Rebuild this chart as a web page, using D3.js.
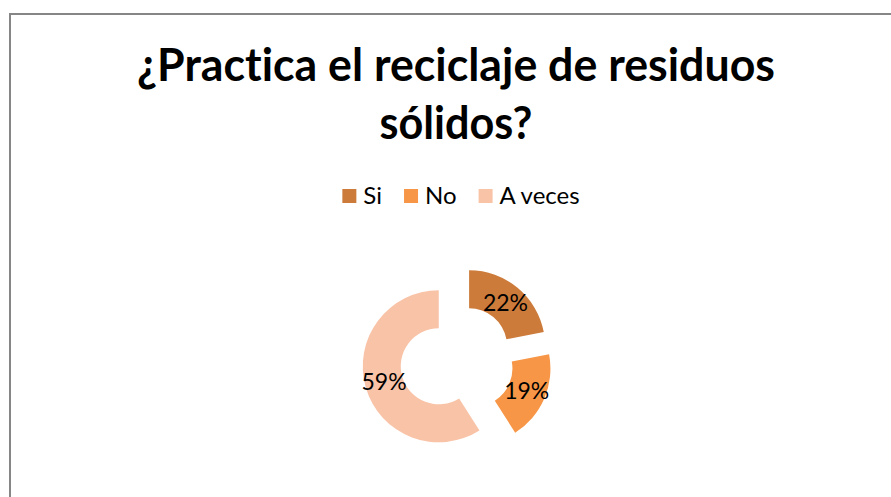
<html>

<head>
    <meta charset="utf-8">
    <script src="https://cdn.jsdelivr.net/npm/d3@7"></script>
    <style>
        body {
            margin: 0;
            background: #fff;
        }

        text {
            font-family: Lato, "Open Sans", sans-serif;
            font-variant-ligatures: none;
        }
    </style>
</head>

<body>
    <script>
        var categories = ['Si', 'No', 'A veces'];
        var values = [22, 19, 59];
        var titleLines = ['¿Practica el reciclaje de residuos', 'sólidos?'];

        var w = 891, h = 497;

        var svg = d3.select('body')
            .append('svg')
            .attr('width', w)
            .attr('height', h);

        // chart area border (runs off right / bottom like the screenshot)
        svg.append('rect')
            .attr('x', 10)
            .attr('y', 14)
            .attr('width', 1000)
            .attr('height', 1000)
            .attr('fill', 'none')
            .attr('stroke', '#868686')
            .attr('stroke-width', 2);

        // title
        var titleWidths = [638, 153];
        svg.selectAll('.title')
            .data(titleLines)
            .enter()
            .append('text')
            .attr('class', 'title')
            .attr('x', 456)
            .attr('y', (d, i) => 81 + i * 57.5)
            .attr('text-anchor', 'middle')
            .attr('font-size', 45)
            .attr('font-weight', 'bold')
            .attr('fill', '#000')
            .attr('textLength', (d, i) => titleWidths[i])
            .attr('lengthAdjust', 'spacingAndGlyphs')
            .text(d => d);

        var color = d3.scaleOrdinal()
            .domain(categories)
            .range(['#CD7B3A', '#F79646', '#F9C3A7']);

        // legend
        var legend = svg.append('g');
        var items = legend.selectAll('g')
            .data(categories)
            .enter()
            .append('g');

        items.append('rect')
            .attr('width', 14)
            .attr('height', 14)
            .attr('y', 189)
            .attr('fill', d => color(d));

        items.append('text')
            .attr('x', 21)
            .attr('y', 204)
            .attr('font-size', 24)
            .attr('fill', '#000')
            .text(d => d);

        var xpos = 0;
        items.each(function () {
            var tw = d3.select(this).select('text').node().getComputedTextLength();
            d3.select(this).attr('transform', 'translate(' + xpos + ',0)');
            xpos += 21 + tw + 22;
        });
        var legendWidth = xpos - 22;
        legend.attr('transform', 'translate(' + (461 - legendWidth / 2) + ',0)');

        // exploded doughnut
        var cx = 457, cy = 361;
        var outerRadius = 76, innerRadius = 38, explode = 19;

        var pie = d3.pie()
            .value(d => d)
            .sort(null);

        var arc = d3.arc()
            .outerRadius(outerRadius)
            .innerRadius(innerRadius);

        var total = d3.sum(values);
        var fmt = d3.format('.0%');

        var g = svg.append('g')
            .attr('transform', 'translate(' + cx + ',' + cy + ')');

        var slices = g.selectAll('g')
            .data(pie(values))
            .enter()
            .append('g')
            .attr('transform', (d) => {
                var a = (d.startAngle + d.endAngle) / 2;
                return 'translate(' + (Math.sin(a) * explode) + ',' + (-Math.cos(a) * explode) + ')';
            });

        slices.append('path')
            .attr('d', arc)
            .attr('fill', (d, i) => color(categories[i]));

        slices.append('text')
            .attr('x', d => arc.centroid(d)[0])
            .attr('y', d => arc.centroid(d)[1])
            .attr('dy', '0.36em')
            .attr('text-anchor', 'middle')
            .attr('font-size', 23)
            .attr('fill', '#000')
            .text(d => fmt(d.value / total));
    </script>
</body>

</html>
